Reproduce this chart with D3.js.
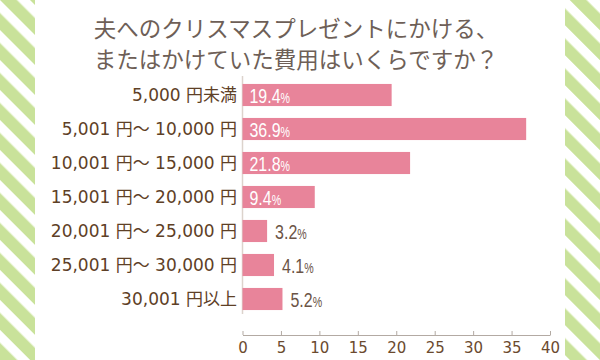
<!DOCTYPE html>
<html><head><meta charset="utf-8">
<script src="https://cdn.jsdelivr.net/npm/d3@7"></script>
<style>body{margin:0;background:#fff}svg{display:block}</style>
</head><body><svg id="c" width="600" height="360"></svg>
<script>
const titleLines = ["夫へのクリスマスプレゼントにかける、", "またはかけていた費用はいくらですか？"];
const categories = ["5,000 円未満", "5,001 円～ 10,000 円", "10,001 円～ 15,000 円", "15,001 円～ 20,000 円", "20,001 円～ 25,000 円", "25,001 円～ 30,000 円", "30,001 円以上"];
const values = [19.4, 36.9, 21.8, 9.4, 3.2, 4.1, 5.2];
const tickValues = [0, 5, 10, 15, 20, 25, 30, 35, 40];

const svg = d3.select("#c");
const defs = svg.append("defs");
const pat = defs.append("pattern").attr("id","stripes").attr("patternUnits","userSpaceOnUse")
  .attr("width",21.2).attr("height",40).attr("patternTransform","rotate(-45)");
pat.append("rect").attr("x",0).attr("y",0).attr("width",12).attr("height",40).attr("fill","#c9e29a");
svg.append("rect").attr("x",0).attr("y",0).attr("width",35).attr("height",360).attr("fill","url(#stripes)");
svg.append("rect").attr("x",565).attr("y",0).attr("width",35).attr("height",360).attr("fill","url(#stripes)");

const title = svg.append("text").attr("x",296).attr("text-anchor","middle")
  .attr("font-family","'Noto Sans CJK JP'").attr("font-weight",400).attr("font-size",22.5).attr("fill","#6e5f57");
titleLines.forEach((t,i)=>title.append("tspan").attr("x",296).attr("y",37+i*31).text(t));

const x = d3.scaleLinear().domain([0,40]).range([242.5,550]);
const y = d3.scaleBand().domain(categories).range([78,316]).paddingInner(0.35).paddingOuter(0.175);

svg.append("line").attr("x1",x(0)).attr("x2",x(0)).attr("y1",76).attr("y2",314)
  .attr("stroke","#dcd3cc").attr("stroke-width",1.5);

svg.selectAll("rect.bar").data(values).join("rect").attr("class","bar")
  .attr("x",x(0)).attr("y",(d,i)=>y(categories[i])).attr("width",d=>x(d)-x(0)).attr("height",y.bandwidth())
  .attr("fill","#e8849a");

svg.selectAll("text.cat").data(categories).join("text").attr("class","cat")
  .attr("x",237).attr("y",d=>y(d)+y.bandwidth()/2).attr("dy","0.36em").attr("text-anchor","end")
  .attr("font-family","'DejaVu Sans','Noto Sans CJK JP'").attr("font-size",17).attr("fill","#5e4026").text(d=>d);

const vl = svg.selectAll("text.val").data(values).join("text").attr("class","val")
  .attr("transform",(d,i)=>`translate(${d>8 ? x(0)+7 : x(d)+8},${y(categories[i])+y.bandwidth()/2}) scale(0.76,1)`)
  .attr("dy","0.36em")
  .attr("font-family","'Liberation Sans'")
  .attr("font-size",21).attr("fill",d=> d>8 ? "#ffffff" : "#6b5446");
vl.append("tspan").text(d=>d.toFixed(1));
vl.append("tspan").attr("font-size",14).text("%");

const axis = d3.axisBottom(x).tickValues(tickValues).tickSize(-4).tickPadding(7).tickSizeOuter(0);
const ag = svg.append("g").attr("transform","translate(0,335)").call(axis);
ag.select(".domain").attr("stroke","#b3aaa3");
ag.selectAll(".tick line").attr("stroke","#b3aaa3");
ag.selectAll(".tick text").attr("font-family","'DejaVu Sans'").attr("font-size",15).attr("fill","#6b4a2e");
</script></body></html>
